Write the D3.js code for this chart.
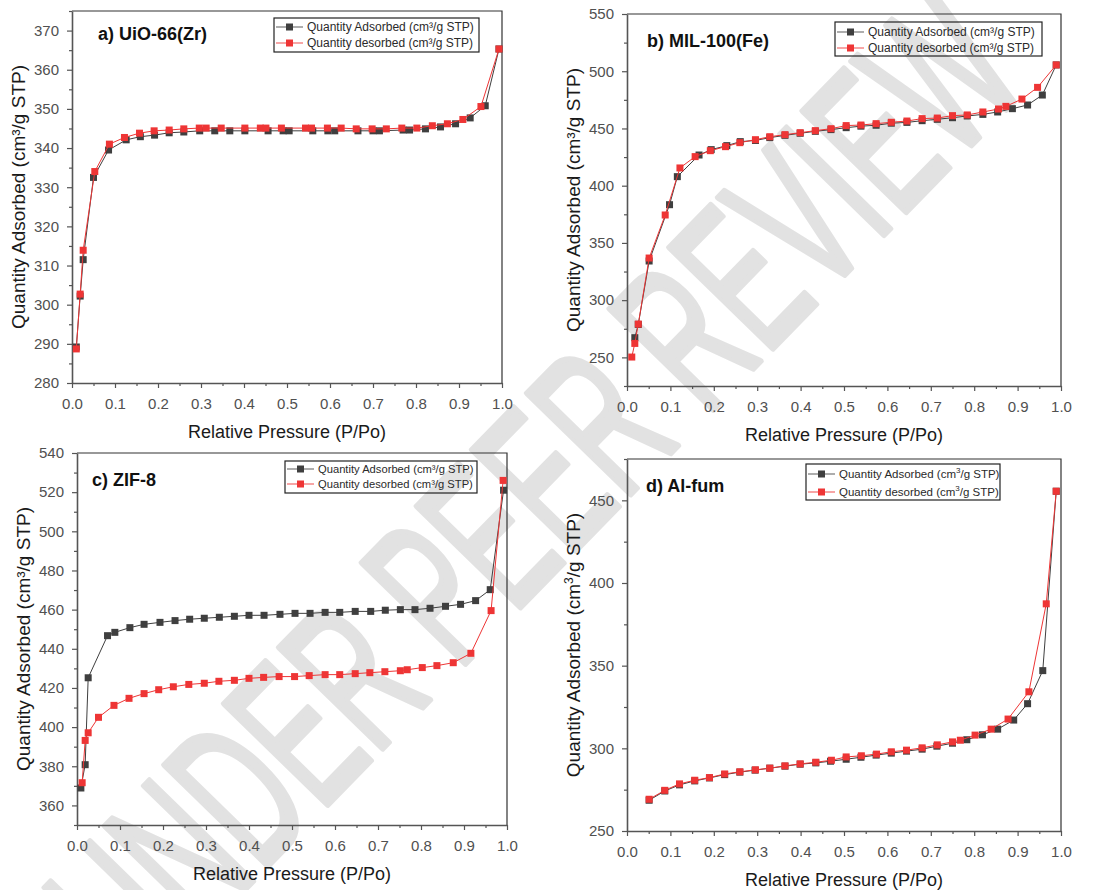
<!DOCTYPE html>
<html>
<head>
<meta charset="utf-8">
<script src="https://cdn.jsdelivr.net/npm/d3@7"></script>
<style>
  body { margin: 0; background: #fff; }
  svg { font-family: Arial, "Liberation Sans", sans-serif; }
</style>
</head>
<body>
<svg id="fig" width="1106" height="890"></svg>
<script>
const xTicks = [0, 0.1, 0.2, 0.3, 0.4, 0.5, 0.6, 0.7, 0.8, 0.9, 1.0];

// a) UiO-66(Zr)
const uioAdsP = [0.010,0.019,0.026,0.050,0.085,0.126,0.159,0.192,0.226,0.260,0.297,0.332,0.367,0.402,0.456,0.491,0.505,0.560,0.595,0.611,0.665,0.700,0.715,0.770,0.785,0.822,0.857,0.892,0.926,0.961,0.993];
const uioAdsQ = [289.2,302.2,311.5,332.5,339.5,342.1,342.9,343.3,343.9,344.1,344.4,344.4,344.4,344.4,344.4,344.4,344.4,344.4,344.4,344.4,344.4,344.4,344.4,344.6,344.6,344.9,345.4,346.2,347.7,350.8,365.3];
const uioDesP = [0.010,0.019,0.026,0.053,0.087,0.122,0.157,0.191,0.226,0.260,0.296,0.312,0.347,0.402,0.438,0.451,0.487,0.543,0.557,0.594,0.626,0.661,0.698,0.731,0.767,0.802,0.838,0.873,0.909,0.951,0.993];
const uioDesQ = [288.7,302.7,313.9,334.0,341.0,342.7,343.8,344.4,344.6,344.9,345.1,345.1,345.1,345.1,345.1,345.1,345.1,345.1,345.1,345.1,345.1,344.9,344.9,344.9,345.1,345.1,345.7,346.2,347.3,350.6,365.3];

// b) MIL-100(Fe)
const milAdsP = [0.018,0.026,0.051,0.098,0.116,0.166,0.194,0.230,0.261,0.296,0.329,0.364,0.399,0.434,0.470,0.505,0.539,0.574,0.609,0.645,0.680,0.715,0.750,0.784,0.820,0.854,0.888,0.923,0.957,0.989];
const milAdsQ = [267.2,278.8,334.2,383.4,407.9,426.8,431.5,435.0,438.5,439.5,442.0,444.0,445.8,447.5,449.0,450.7,452.0,452.8,454.6,455.3,456.8,458.0,459.4,460.9,462.3,464.4,467.3,470.5,479.2,505.5];
const milDesP = [0.011,0.018,0.026,0.051,0.088,0.122,0.157,0.192,0.227,0.260,0.296,0.329,0.364,0.399,0.434,0.470,0.505,0.539,0.574,0.609,0.645,0.680,0.715,0.750,0.784,0.820,0.856,0.873,0.910,0.946,0.989];
const milDesQ = [250.3,262.2,279.1,336.8,374.4,415.5,425.4,430.6,434.1,437.6,440.2,442.8,444.6,446.3,448.1,449.8,452.5,453.0,454.2,455.4,456.5,458.6,459.1,461.2,461.8,464.4,467.0,469.3,475.7,485.9,505.5];

// c) ZIF-8
const zifAdsP = [0.009,0.019,0.026,0.071,0.088,0.123,0.156,0.193,0.228,0.262,0.296,0.331,0.366,0.400,0.435,0.472,0.507,0.542,0.577,0.611,0.647,0.683,0.717,0.752,0.786,0.821,0.857,0.892,0.927,0.961,0.992];
const zifAdsQ = [368.9,380.8,425.2,446.7,448.4,450.8,452.5,453.5,454.4,455.1,455.6,456.1,456.6,457.1,457.1,457.6,458.1,458.1,458.6,458.6,459.1,459.1,459.7,460.0,460.0,460.7,461.7,462.7,464.6,470.2,521.0];
const zifDesP = [0.012,0.019,0.026,0.050,0.086,0.121,0.156,0.190,0.224,0.260,0.296,0.330,0.366,0.400,0.434,0.470,0.506,0.540,0.577,0.611,0.647,0.681,0.716,0.752,0.768,0.803,0.837,0.875,0.916,0.963,0.991];
const zifDesQ = [371.6,393.2,397.1,405.0,411.1,414.7,417.1,419.1,420.6,421.8,422.4,423.4,423.9,424.9,425.4,425.8,425.8,426.3,426.8,426.8,427.3,427.8,428.3,428.8,429.3,430.4,431.4,432.9,437.7,459.5,526.0];

// d) Al-fum
const alAdsP = [0.051,0.087,0.121,0.156,0.190,0.225,0.260,0.295,0.329,0.364,0.399,0.435,0.469,0.505,0.539,0.574,0.609,0.644,0.680,0.714,0.750,0.783,0.819,0.854,0.891,0.923,0.958,0.989];
const alAdsQ = [268.6,274.2,277.9,280.3,282.1,284.1,285.6,286.8,288.0,289.2,290.4,291.2,292.2,293.4,294.6,295.9,297.1,298.3,299.5,301.3,303.1,305.2,308.2,311.6,317.1,327.0,347.0,455.5];
const alDesP = [0.051,0.087,0.121,0.156,0.190,0.225,0.260,0.296,0.329,0.364,0.399,0.435,0.471,0.505,0.540,0.575,0.609,0.644,0.680,0.715,0.750,0.768,0.802,0.839,0.878,0.926,0.966,0.989];
const alDesQ = [269.2,274.6,278.5,280.7,282.3,284.5,285.8,287.0,288.0,289.4,290.6,291.6,292.8,294.8,295.5,296.5,297.9,298.9,300.3,302.1,303.9,304.9,308.0,311.6,317.7,334.2,387.4,455.5];

const adsColor = "#3f3f3f";
const desColor = "#ee3535";

const panels = [
  { title: "a) UiO-66(Zr)", box: [72, 11, 502, 383], yDomain: [280, 375], yMajor: 10, yMinor: 5,
    titlePos: [98, 40], ylabX: 25, legend: { x: 274, y: 18, w: 205, h: 34, r1: 27, r2: 43, fs: 12 },
    ads: [uioAdsP, uioAdsQ], des: [uioDesP, uioDesQ], sup: false },
  { title: "b) MIL-100(Fe)", box: [627, 14, 1061, 386], yDomain: [225, 550], yMajor: 50, yMinor: 25,
    titlePos: [647, 47], ylabX: 580, legend: { x: 835, y: 22, w: 207, h: 34, r1: 32, r2: 48, fs: 12 },
    ads: [milAdsP, milAdsQ], des: [milDesP, milDesQ], sup: false },
  { title: "c) ZIF-8", box: [77, 453, 507, 825], yDomain: [350, 540], yMajor: 20, yMinor: 10,
    titlePos: [92, 486], ylabX: 30, legend: { x: 285, y: 461, w: 192, h: 32, r1: 469, r2: 484, fs: 11.2 },
    ads: [zifAdsP, zifAdsQ], des: [zifDesP, zifDesQ], sup: false },
  { title: "d) Al-fum", box: [627, 459, 1061, 831], yDomain: [250, 475], yMajor: 50, yMinor: 25,
    titlePos: [646, 492], ylabX: 580, legend: { x: 806, y: 464, w: 194, h: 36, r1: 474, r2: 492, fs: 11.5 },
    ads: [alAdsP, alAdsQ], des: [alDesP, alDesQ], sup: true }
];

const svg = d3.select("#fig");

// watermark behind everything (tall, narrow, light-grey letters)
svg.append("text")
  .attr("transform", "translate(141,996) rotate(-45.7)")
  .attr("font-size", 210)
  .attr("textLength", 1275)
  .attr("lengthAdjust", "spacingAndGlyphs")
  .attr("fill", "#e2e2e2")
  .attr("stroke", "#e2e2e2")
  .attr("stroke-width", 6)
  .attr("stroke-linejoin", "round")
  .text("UNDER PEER REVIEW");

function range(a, b, step) {
  const out = [];
  for (let v = a; v <= b + 1e-9; v += step) out.push(+v.toFixed(4));
  return out;
}

function drawPanel(p) {
  const [l, t, r, b] = p.box;
  const x = d3.scaleLinear().domain([0, 1]).range([l, r]);
  const y = d3.scaleLinear().domain(p.yDomain).range([b, t]);
  const g = svg.append("g");

  const yStart = Math.ceil(p.yDomain[0] / p.yMajor) * p.yMajor;
  const yMaj = range(yStart, p.yDomain[1], p.yMajor);
  const yMin = range(Math.ceil(p.yDomain[0] / p.yMinor) * p.yMinor, p.yDomain[1], p.yMinor)
    .filter(v => Math.abs(v / p.yMajor - Math.round(v / p.yMajor)) > 1e-6);
  const xMin = range(0.05, 0.95, 0.1);

  // frame top / right
  g.append("path")
    .attr("d", `M${l},${t}H${r}V${b}`)
    .attr("fill", "none").attr("stroke", "#333").attr("stroke-width", 1.2);

  // minor ticks
  g.append("g").attr("transform", `translate(0,${b})`)
    .call(d3.axisBottom(x).tickValues(xMin).tickSize(3).tickSizeOuter(0).tickFormat(""))
    .call(s => s.select(".domain").remove())
    .selectAll("line").attr("stroke", "#555").attr("stroke-width", 1.2);
  g.append("g").attr("transform", `translate(${l},0)`)
    .call(d3.axisLeft(y).tickValues(yMin).tickSize(3).tickSizeOuter(0).tickFormat(""))
    .call(s => s.select(".domain").remove())
    .selectAll("line").attr("stroke", "#555").attr("stroke-width", 1.2);

  // major axes
  const xa = g.append("g").attr("transform", `translate(0,${b})`)
    .call(d3.axisBottom(x).tickValues(xTicks).tickSize(5).tickPadding(10).tickSizeOuter(0).tickFormat(d3.format(".1f")));
  const ya = g.append("g").attr("transform", `translate(${l},0)`)
    .call(d3.axisLeft(y).tickValues(yMaj).tickSize(5).tickPadding(8).tickSizeOuter(0));
  [xa, ya].forEach(a => {
    a.select(".domain").attr("stroke", "#555").attr("stroke-width", 1.6);
    a.selectAll(".tick line").attr("stroke", "#555").attr("stroke-width", 1.2);
    a.selectAll(".tick text").attr("font-size", 15).attr("fill", "#505050")
      .attr("font-family", "Arial, 'Liberation Sans', sans-serif");
  });

  // axis titles
  svg.append("text")
    .attr("x", (l + r) / 2).attr("y", b + 55)
    .attr("text-anchor", "middle").attr("font-size", 18).attr("fill", "#1a1a1a")
    .text("Relative Pressure (P/Po)");
  const yl = svg.append("text")
    .attr("transform", `translate(${p.ylabX},${(t + b) / 2}) rotate(-90)`)
    .attr("text-anchor", "middle").attr("font-size", 19).attr("fill", "#1a1a1a");
  if (p.sup) {
    yl.append("tspan").text("Quantity Adsorbed (cm");
    yl.append("tspan").attr("font-size", 12).attr("dy", -7).text("3");
    yl.append("tspan").attr("dy", 7).text("/g STP)");
  } else {
    yl.text("Quantity Adsorbed (cm³/g STP)");
  }

  // series
  const line = d3.line().x(d => x(d[0])).y(d => y(d[1]));
  const series = [
    { pts: d3.zip(p.ads[0], p.ads[1]), color: adsColor },
    { pts: d3.zip(p.des[0], p.des[1]), color: desColor }
  ];
  series.forEach(s => {
    g.append("path").datum(s.pts).attr("d", line)
      .attr("fill", "none").attr("stroke", s.color).attr("stroke-width", 1);
    g.selectAll(null).data(s.pts).join("rect")
      .attr("x", d => x(d[0]) - 3.5).attr("y", d => y(d[1]) - 3.5)
      .attr("width", 7).attr("height", 7).attr("fill", s.color);
  });

  // panel title
  svg.append("text")
    .attr("x", p.titlePos[0]).attr("y", p.titlePos[1])
    .attr("font-size", 18).attr("font-weight", "bold").attr("fill", "#111")
    .text(p.title);

  // legend
  const L = p.legend;
  svg.append("rect").attr("x", L.x).attr("y", L.y).attr("width", L.w).attr("height", L.h)
    .attr("fill", "none").attr("stroke", "#222").attr("stroke-width", 1.2);
  const names = ["Quantity Adsorbed (cm", "Quantity desorbed (cm"];
  [[L.r1, adsColor, "#777"], [L.r2, desColor, "#f26a6a"]].forEach((row, i) => {
    const [ry, mc, lc] = row;
    svg.append("line").attr("x1", L.x + 2).attr("x2", L.x + 29).attr("y1", ry).attr("y2", ry)
      .attr("stroke", lc).attr("stroke-width", 1.2);
    svg.append("rect").attr("x", L.x + 12).attr("y", ry - 3.5).attr("width", 7).attr("height", 7).attr("fill", mc);
    const tx = svg.append("text").attr("x", L.x + 33).attr("y", ry + 4.3)
      .attr("font-size", L.fs).attr("fill", "#2a2a2a");
    if (p.sup) {
      tx.append("tspan").text(names[i]);
      tx.append("tspan").attr("font-size", 8).attr("dy", -5).text("3");
      tx.append("tspan").attr("dy", 5).text("/g STP)");
    } else {
      tx.text(names[i] + "³/g STP)");
    }
  });
}

panels.forEach(drawPanel);
</script>
</body>
</html>
